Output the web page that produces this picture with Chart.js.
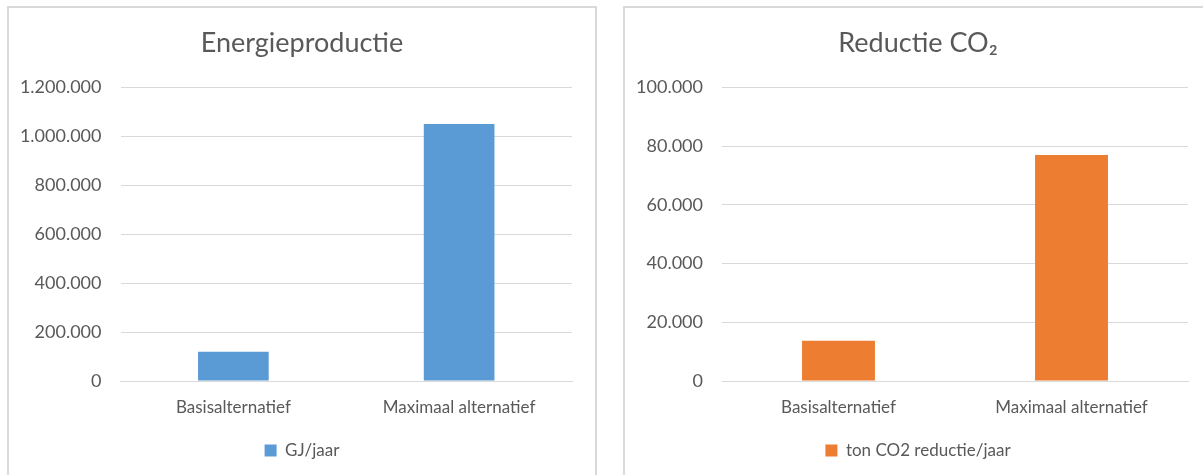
<!DOCTYPE html>
<html>
<head>
<meta charset="utf-8">
<script src="https://cdn.jsdelivr.net/npm/chart.js@4/dist/chart.umd.min.js"></script>
<style>
  html, body { margin: 0; padding: 0; background: #fff; overflow: hidden; }
  .panel { position: absolute; top: 6px; width: 586px; height: 480px; border: 2px solid #d9d9d9; background: #fff; }
  #p1 { left: 7px; }
  #p2 { left: 623px; }
  canvas { display: block; }
</style>
</head>
<body>
<div class="panel" id="p1"><canvas id="energy" width="586" height="467"></canvas></div>
<div class="panel" id="p2"><canvas id="co2" width="586" height="467"></canvas></div>
<script>
// chart values
const categories = ['Basisalternatief', 'Maximaal alternatief'];
const energyValues = [120000, 1050000];
const co2Values = [13700, 77000];
const energyTicks = [0, 200000, 400000, 600000, 800000, 1000000, 1200000];
const co2Ticks = [0, 20000, 40000, 60000, 80000, 100000];

const textColor = '#595959';
const gridColor = '#d9d9d9';
const fontFamily = 'Lato, "Open Sans", sans-serif';

function fmt(v) {
  return String(Math.round(v)).replace(/\B(?=(\d{3})+(?!\d))/g, '.');
}

function makeChart(id, title, label, values, color, ticks, yWidth) {
  const ctx = document.getElementById(id).getContext('2d');
  return new Chart(ctx, {
    type: 'bar',
    data: {
      labels: categories,
      datasets: [{
        label: label,
        data: values,
        backgroundColor: color,
        borderWidth: 0,
        categoryPercentage: 1,
        barPercentage: 0.313
      }]
    },
    options: {
      responsive: false,
      animation: false,
      devicePixelRatio: 1,
      layout: { padding: { top: 0, right: 0, bottom: 6, left: 0 } },
      plugins: {
        title: {
          display: true,
          text: title,
          color: textColor,
          font: { family: fontFamily, size: 27, weight: 'normal' },
          padding: { top: 19, bottom: 28 }
        },
        legend: {
          position: 'bottom',
          labels: {
            color: textColor,
            font: { family: fontFamily, size: 17 },
            boxWidth: 12,
            boxHeight: 12,
            padding: 10
          }
        },
        tooltip: { enabled: false }
      },
      scales: {
        x: {
          grid: { display: false, drawTicks: false },
          border: { display: true, color: gridColor, width: 1 },
          ticks: { color: textColor, font: { family: fontFamily, size: 17 }, padding: 16, maxRotation: 0 },
          afterFit: s => { s.height = 51; }
        },
        y: {
          min: ticks[0],
          max: ticks[ticks.length - 1],
          afterBuildTicks: s => { s.ticks = ticks.map(v => ({ value: v })); },
          grid: { color: gridColor, drawTicks: false },
          border: { display: false },
          ticks: {
            color: textColor,
            font: { family: fontFamily, size: 18 },
            padding: 19,
            callback: v => fmt(v)
          },
          afterFit: s => { s.width = yWidth; }
        },
        // empty spacer on the right so the title and legend stay centred on the panel
        spacer: {
          type: 'linear',
          position: 'right',
          display: true,
          grid: { display: false },
          border: { display: false },
          ticks: { display: false },
          afterFit: s => { s.width = 23; }
        }
      }
    }
  });
}

makeChart('energy', 'Energieproductie', 'GJ/jaar', energyValues, '#5b9bd5', energyTicks, 111.5);
makeChart('co2', 'Reductie CO\u2082', 'ton CO2 reductie/jaar', co2Values, '#ed7d31', co2Ticks, 97);
</script>
</body>
</html>
